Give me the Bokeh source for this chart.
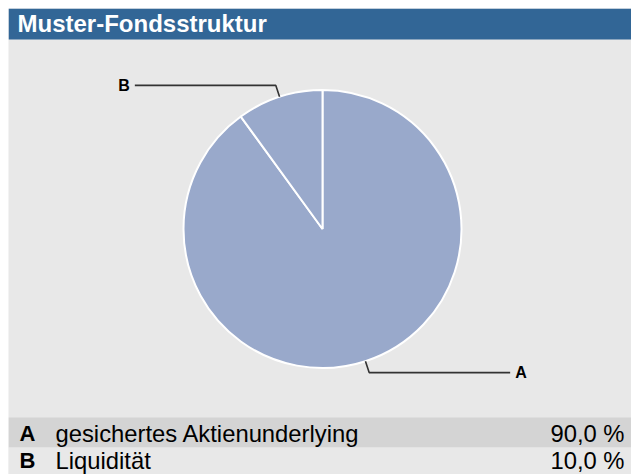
import math
from bokeh.plotting import figure
from bokeh.models import Range1d, ColumnDataSource
from bokeh.core.properties import value
from bokeh.embed import file_html
from bokeh.resources import INLINE

# ---- data ----
title = "Muster-Fondsstruktur"
letters = ["A", "B"]
names = ["gesichertes Aktienunderlying", "Liquidität"]
shares = [90.0, 10.0]
share_labels = ["90,0 %", "10,0 %"]

W, H = 623, 466          # drawing area
MARGIN = 8
FONT = "Liberation Sans"

p = figure(width=W + MARGIN, height=H + MARGIN, output_backend="svg", toolbar_location=None,
           x_range=Range1d(0, W), y_range=Range1d(0, H),
           min_border_left=MARGIN, min_border_top=MARGIN,
           min_border_right=0, min_border_bottom=0)
p.axis.visible = False
p.grid.visible = False
p.outline_line_color = None
p.background_fill_color = "#e8e8e8"
p.border_fill_color = "white"

# title bar
p.quad(left=0, right=W, bottom=H - 31, top=H, fill_color="#326696", line_color=None)
p.text(x=[9], y=[H - 14.7], text=[title], text_font=value(FONT), text_font_size="24px",
       text_font_style="bold", text_color="white", text_baseline="middle")

# pie
cx, cy, r = 314, 245.5, 139
total = sum(shares)
starts, ends, mids = [], [], []
a = math.pi / 2
for s in shares:
    da = 2 * math.pi * s / total
    starts.append(a)
    ends.append(a - da)
    mids.append(a - da / 2)
    a -= da
src = ColumnDataSource(dict(start=starts, end=ends))
p.wedge(x=cx, y=cy, radius=r, start_angle="start", end_angle="end", direction="clock",
        source=src, fill_color="#99a9cb", line_color="white", line_width=2)

# leaders
for lab, m in zip(letters, mids):
    x0, y0 = cx + r * math.cos(m), cy + r * math.sin(m)
    x1, y1 = cx + (r + 12) * math.cos(m), cy + (r + 12) * math.sin(m)
    side = 1 if math.cos(m) >= 0 else -1
    x2 = x1 + side * 141
    p.line([x0, x1, x2], [y0, y1, y1], line_color="#333333", line_width=1.6)
    p.text(x=[x2 + side * 5], y=[y1], text=[lab], text_font=value(FONT), text_font_size="16px",
           text_font_style="bold", text_color="black", text_baseline="middle",
           text_align="left" if side > 0 else "right")

# table
band_tops = [57, 27]
band_bottoms = [27, 0]
mids_y = [41.5, 14.5]
band_colors = ["#d4d4d4", "#e8e8e8"]
p.quad(left=0, right=W, bottom=band_bottoms, top=band_tops, fill_color=band_colors, line_color=None)
p.text(x=[11] * len(letters), y=mids_y, text=letters, text_font=value(FONT), text_font_size="22px",
       text_font_style="bold", text_color="black", text_baseline="middle")
p.text(x=[47] * len(names), y=mids_y, text=names, text_font=value(FONT), text_font_size="23.8px",
       text_color="black", text_baseline="middle")
p.text(x=[616] * len(share_labels), y=mids_y, text=share_labels, text_font=value(FONT),
       text_font_size="23.8px", text_color="black", text_baseline="middle", text_align="right")

open("out.html", "w").write(file_html(p, INLINE))
